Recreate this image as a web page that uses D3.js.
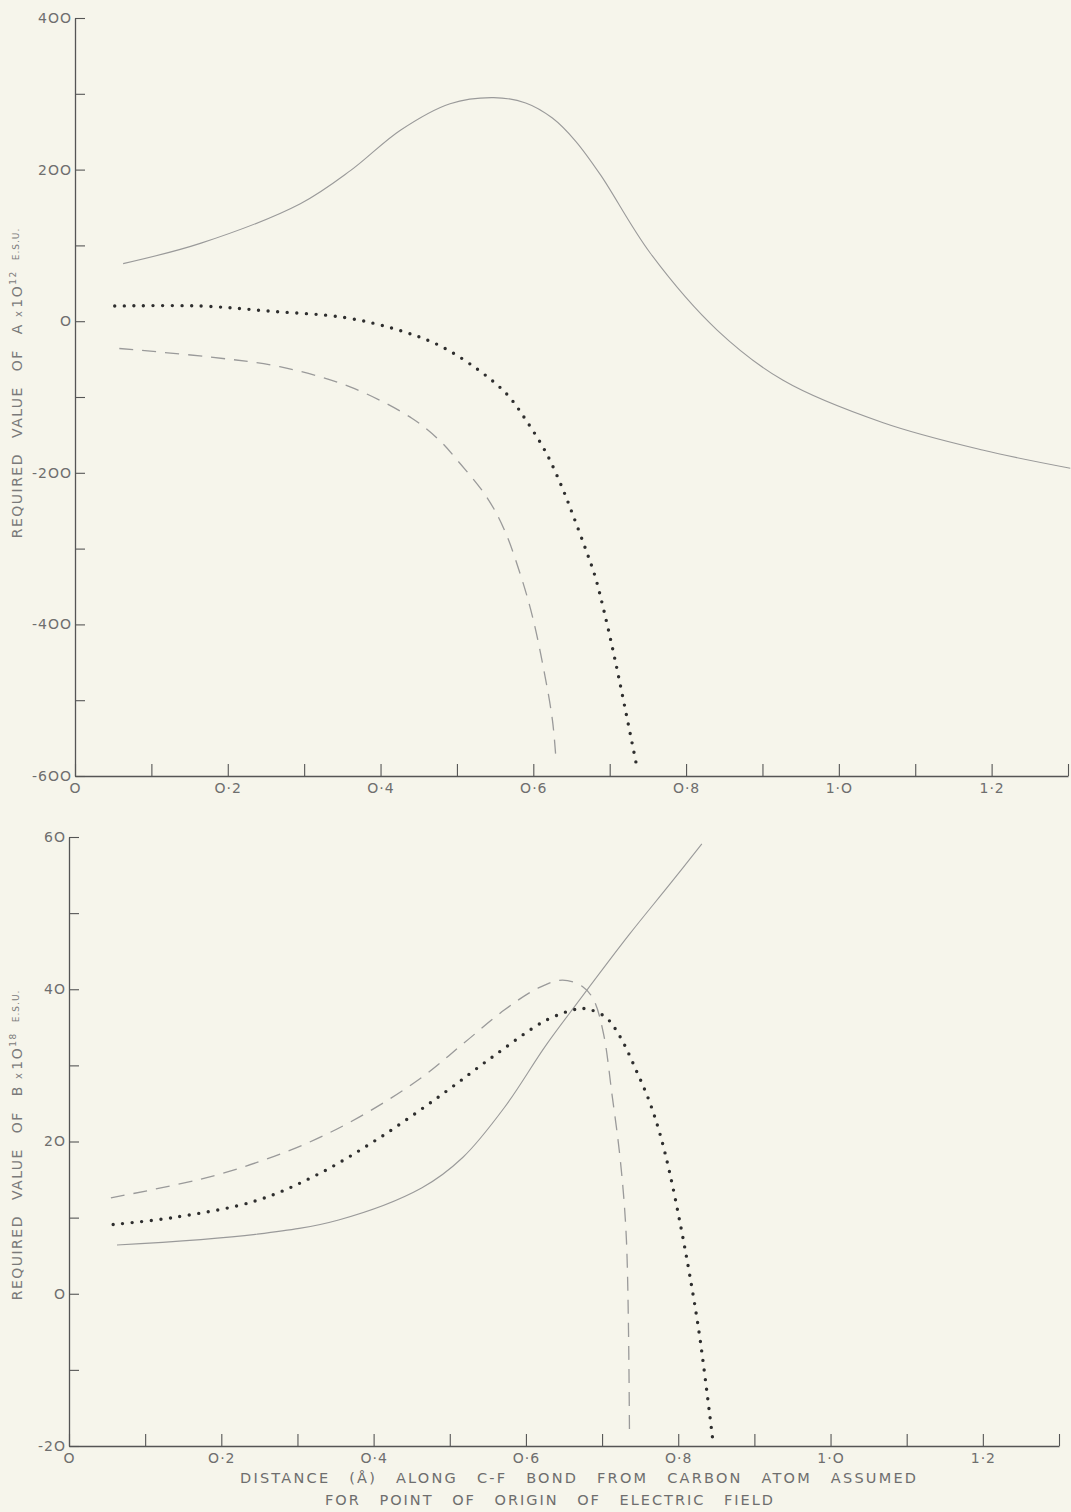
<!DOCTYPE html>
<html>
<head>
<meta charset="utf-8">
<script src="https://cdn.jsdelivr.net/npm/d3@7"></script>
<style>
  body { margin: 0; background: #f6f5eb; }
  svg { display: block; }
  text { font-family: "DejaVu Sans", sans-serif; fill: #707070; }
</style>
</head>
<body>
<svg id="chart"></svg>
<script>
// values: [distance, value]
const solidA = [[0.063, 76], [0.165, 103], [0.295, 155], [0.361, 199], [0.426, 252], [0.491, 287],
  [0.548, 295], [0.590, 288], [0.625, 268], [0.655, 238], [0.688, 193], [0.753, 90], [0.841, -12],
  [0.927, -78], [1.058, -134], [1.188, -170], [1.303, -194]];
const dottedA = [[0.052, 20], [0.165, 20], [0.258, 13], [0.352, 5], [0.421, -11], [0.477, -32],
  [0.529, -65], [0.566, -97], [0.592, -133], [0.617, -174], [0.638, -220], [0.652, -256],
  [0.669, -302], [0.681, -337], [0.692, -380], [0.706, -442], [0.720, -510], [0.735, -585]];
const dashedA = [[0.058, -36], [0.174, -47], [0.268, -60], [0.361, -87], [0.441, -128], [0.477, -157],
  [0.501, -184], [0.539, -232], [0.562, -275], [0.584, -337], [0.599, -390], [0.613, -456],
  [0.625, -526], [0.630, -582]];

const solidB = [[0.063, 6.4], [0.245, 7.8], [0.354, 9.7], [0.463, 13.9], [0.517, 17.9], [0.572, 24.5],
  [0.626, 32.6], [0.669, 38.4], [0.735, 47.1], [0.789, 53.8], [0.831, 59.1]];
const dashedB = [[0.055, 12.6], [0.190, 15.5], [0.299, 19.2], [0.381, 23.2], [0.463, 28.4], [0.517, 32.8],
  [0.572, 37.3], [0.615, 40.1], [0.648, 41.2], [0.675, 40.3], [0.689, 38.6], [0.702, 34.1],
  [0.713, 26.2], [0.724, 17.5], [0.732, 7.0], [0.736, -18.9]];
const dottedB = [[0.058, 9.1], [0.136, 10.0], [0.245, 12.2], [0.327, 15.7], [0.408, 20.5], [0.490, 26.2],
  [0.560, 31.4], [0.626, 35.9], [0.667, 37.4], [0.681, 37.4], [0.705, 36.3], [0.724, 33.7],
  [0.745, 29.3], [0.762, 25.3], [0.776, 21.0], [0.789, 15.8], [0.803, 9.0], [0.815, 2.5],
  [0.828, -5.5], [0.845, -18.9]];

const xTicks = d3.range(0, 14).map(i => i / 10);
const xTickLabels = {0: "O", 2: "O·2", 4: "O·4", 6: "O·6", 8: "O·8", 10: "1·O", 12: "1·2"};
const yTicksA = d3.range(-600, 401, 100);
const yTicksB = d3.range(-20, 61, 10);

const width = 1071, height = 1512;
const svg = d3.select("#chart").attr("width", width).attr("height", height);

function panel(cfg) {
  const x = d3.scaleLinear().domain([0, 1.3]).range(cfg.xRange);
  const y = d3.scaleLinear().domain(cfg.yDomain).range(cfg.yRange);
  const g = svg.append("g");

  // x axis, ticks pointing up into the plot
  const xa = g.append("g")
    .attr("transform", "translate(0," + cfg.yRange[0] + ")")
    .call(d3.axisBottom(x).tickValues(xTicks).tickSize(-12).tickSizeOuter(0).tickPadding(7)
      .tickFormat(d => xTickLabels[Math.round(d * 10)] || ""));
  // y axis, ticks pointing right
  const ya = g.append("g")
    .attr("transform", "translate(" + cfg.xRange[0] + ",0)")
    .call(d3.axisLeft(y).tickValues(cfg.yTicks).tickSize(-10).tickSizeOuter(0).tickPadding(3)
      .tickFormat(d => d % cfg.labelEvery === 0 ? String(d).replace(/0/g, "O") : ""));
  [xa, ya].forEach(a => {
    a.select(".domain").attr("stroke", "#555").attr("stroke-width", 1.3);
    a.selectAll(".tick line").attr("stroke", "#555").attr("stroke-width", 1.1);
    a.selectAll(".tick text").style("font-size", "14px").style("fill", "#6e6e6e")
      .style("letter-spacing", "1px");
  });

  const line = d3.line().x(d => x(d[0])).y(d => y(d[1])).curve(d3.curveCatmullRom.alpha(0.5));

  g.append("path").datum(cfg.solid).attr("d", line)
    .attr("fill", "none").attr("stroke", "#9a9a9a").attr("stroke-width", 1.1);
  g.append("path").datum(cfg.dashed).attr("d", line)
    .attr("fill", "none").attr("stroke", "#9a9a9a").attr("stroke-width", 1.3)
    .attr("stroke-dasharray", "14 9");
  g.append("path").datum(cfg.dotted).attr("d", line)
    .attr("fill", "none").attr("stroke", "#2e2e2e").attr("stroke-width", 3.4)
    .attr("stroke-linecap", "round").attr("stroke-dasharray", "0 9.6");

  // rotated y title
  const t = g.append("text")
    .attr("transform", "translate(22," + cfg.titleY + ") rotate(-90)")
    .attr("text-anchor", "middle")
    .style("font-size", "14px").style("letter-spacing", "1.5px").style("word-spacing", "9px")
    .style("fill", "#7a7a7a");
  t.append("tspan").text("REQUIRED VALUE OF " + cfg.letter);
  t.append("tspan").attr("dx", 6).style("font-size", "10px").text("x");
  t.append("tspan").attr("dx", 2).text("1O");
  t.append("tspan").attr("dy", -6).style("font-size", "9px").text(cfg.exp);
  t.append("tspan").attr("dy", 3).attr("dx", 10).style("font-size", "9px").style("letter-spacing", "1px").text("E.S.U.");
}

panel({
  xRange: [75, 1068], yDomain: [-600, 400], yRange: [776, 18],
  yTicks: yTicksA, labelEvery: 200, solid: solidA, dashed: dashedA, dotted: dottedA,
  letter: "A", exp: "12", titleY: 383
});
panel({
  xRange: [69, 1059], yDomain: [-20, 60], yRange: [1446, 837],
  yTicks: yTicksB, labelEvery: 20, solid: solidB, dashed: dashedB, dotted: dottedB,
  letter: "B", exp: "18", titleY: 1145
});

// x axis title, two lines
svg.append("text").attr("x", 578).attr("y", 1483).attr("text-anchor", "middle")
  .attr("textLength", 676).attr("lengthAdjust", "spacing")
  .style("font-size", "14.5px").style("word-spacing", "12px").style("fill", "#6e6e6e")
  .text("DISTANCE (Å) ALONG C-F BOND FROM CARBON ATOM ASSUMED");
svg.append("text").attr("x", 549).attr("y", 1505).attr("text-anchor", "middle")
  .attr("textLength", 448).attr("lengthAdjust", "spacing")
  .style("font-size", "14.5px").style("word-spacing", "12px").style("fill", "#6e6e6e")
  .text("FOR POINT OF ORIGIN OF ELECTRIC FIELD");
</script>
</body>
</html>
